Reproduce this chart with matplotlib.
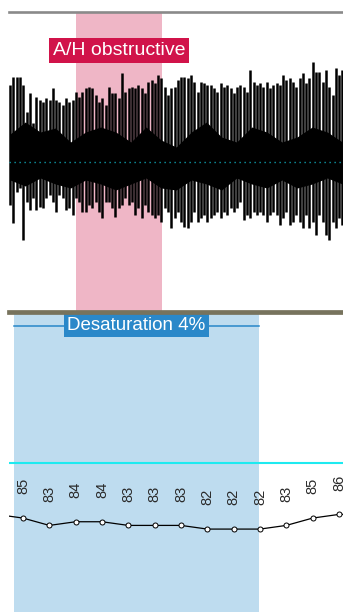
import numpy as np
import matplotlib.pyplot as plt
from matplotlib.transforms import blended_transform_factory

# time window shown (seconds)
t_min, t_max = 4.68, 131.53

# scored events (s)
apnea_start, apnea_end = 30.1, 62.8
desat_start, desat_end = 6.6, 99.6
apnea_label = "A/H obstructive"
desat_label = "Desaturation 4%"

# respiration trace: peak above / trough below baseline for each breath stroke
resp_up = [77, 85, 85, 85, 77, 50, 69, 39, 65, 62, 60, 64, 62, 74, 62, 60, 57,
           64, 60, 62, 70, 65, 70, 74, 75, 74, 67, 60, 64, 57, 75, 69, 69, 64,
           89, 70, 74, 75, 74, 77, 74, 69, 80, 82, 79, 87, 84, 75, 67, 74, 75,
           82, 85, 85, 84, 87, 80, 70, 80, 79, 77, 77, 74, 70, 79, 75, 77, 74,
           69, 75, 77, 75, 70, 92, 80, 77, 79, 75, 80, 74, 77, 79, 77, 87, 82,
           84, 80, 75, 84, 89, 79, 84, 100, 90, 90, 80, 92, 75, 67, 94, 87, 92]
resp_down = [-43, -61, -30, -26, -78, -40, -48, -36, -48, -45, -46, -36, -33, -40, -50, -33, -36,
             -48, -46, -53, -36, -40, -50, -50, -43, -46, -40, -50, -56, -40, -40, -46, -55, -46,
             -43, -36, -43, -40, -53, -46, -56, -43, -50, -53, -56, -53, -60, -46, -50, -66, -56,
             -50, -60, -65, -66, -60, -50, -60, -56, -53, -60, -56, -53, -50, -56, -50, -53, -46,
             -50, -46, -40, -58, -53, -56, -50, -53, -50, -53, -60, -53, -50, -53, -63, -56, -50,
             -63, -60, -53, -60, -66, -53, -66, -60, -73, -53, -60, -73, -78, -60, -66, -56, -63]
resp_t = np.linspace(5.1, 131.3, len(resp_up))

# dense core of the trace around baseline
core_hi = [28, 40, 30, 34, 20, 30, 35, 30, 20, 35, 22, 15, 30, 40, 25, 20, 35, 30, 20, 25, 35, 30, 20]
core_lo = [-18, -24, -16, -22, -26, -18, -22, -28, -22, -16, -26, -28, -18, -22, -28, -16, -22, -26,
           -18, -26, -22, -16, -22]
core_t = np.linspace(5.1, 131.3, len(core_hi))

# SpO2 samples (every 10 s)
spo2_t = np.arange(0, 150, 10)
spo2 = [86, 85, 83, 84, 84, 83, 83, 83, 82, 82, 82, 83, 85, 86, 86]
spo2_ref = 100

fig = plt.figure(figsize=(3.43, 6.12), dpi=100)
ax1 = fig.add_axes([0.0262, 0.4910, 0.9738, 0.4894])
ax2 = fig.add_axes([0.0262, 0.0, 0.9738, 0.4910])
ax1.set_zorder(2)
ax1.patch.set_alpha(0)

# ---- respiration panel ----
ax1.axvspan(apnea_start, apnea_end, color='#EFB6C6', lw=0, zorder=1)
ax1.fill_between(core_t, core_lo, core_hi, color='black', lw=0, zorder=2)
ax1.vlines(resp_t, resp_down, resp_up, color='black', lw=1.8, zorder=3)
ax1.axhline(0, color='#12AABB', lw=1, dashes=(0.9, 2.7), zorder=4)  # baseline dots
tr1 = blended_transform_factory(ax1.transData, ax1.transAxes)
ax1.text((apnea_start + apnea_end) / 2, 0.8715, apnea_label, transform=tr1,
         ha='center', va='center', color='white', fontsize=14, family='Liberation Sans',
         bbox=dict(boxstyle='square,pad=0.2', fc='#D1134A', ec='none'), zorder=5)
ax1.set_xlim(t_min, t_max)
ax1.set_ylim(-149.5, 150)
ax1.set_xticks([])
ax1.set_yticks([])
for s in ['left', 'right']:
    ax1.spines[s].set_visible(False)
ax1.spines['top'].set_color('#8A8A8A')
ax1.spines['top'].set_linewidth(1.9)
ax1.spines['bottom'].set_color('#77735D')
ax1.spines['bottom'].set_linewidth(3.4)

# ---- SpO2 panel ----
ax2.axvspan(desat_start, desat_end, color='#BEDCEF', lw=0, zorder=1)
tr2 = blended_transform_factory(ax2.transData, ax2.transAxes)
ax2.plot([desat_start, desat_end], [0.9534, 0.9534], transform=tr2, color='#2787C9', lw=1.1, zorder=2)
ax2.text((desat_start + desat_end) / 2, 0.9534, desat_label, transform=tr2,
         ha='center', va='center', color='white', fontsize=13.5, family='Liberation Sans',
         bbox=dict(boxstyle='square,pad=0.17', fc='#2A88C9', ec='none'), zorder=5)
ax2.axhline(spo2_ref, color='#1EEAF0', lw=1.5, zorder=2)
ax2.plot(spo2_t, spo2, color='black', lw=0.9, marker='o', ms=3.6,
         mfc='white', mec='black', mew=0.7, zorder=4)
for t, v in zip(spo2_t, spo2):
    ax2.annotate(str(v), (t, v), xytext=(0, 17), textcoords='offset points',
                 rotation=90, ha='center', va='bottom', fontsize=10.5,
                 family='Liberation Sans', color='#2A2A2A')
ax2.set_xlim(t_min, t_max)
ax2.set_ylim(59.4, 141.3)
ax2.set_xticks([])
ax2.set_yticks([])
for s in ax2.spines.values():
    s.set_visible(False)

plt.savefig('out.png', dpi=100)
